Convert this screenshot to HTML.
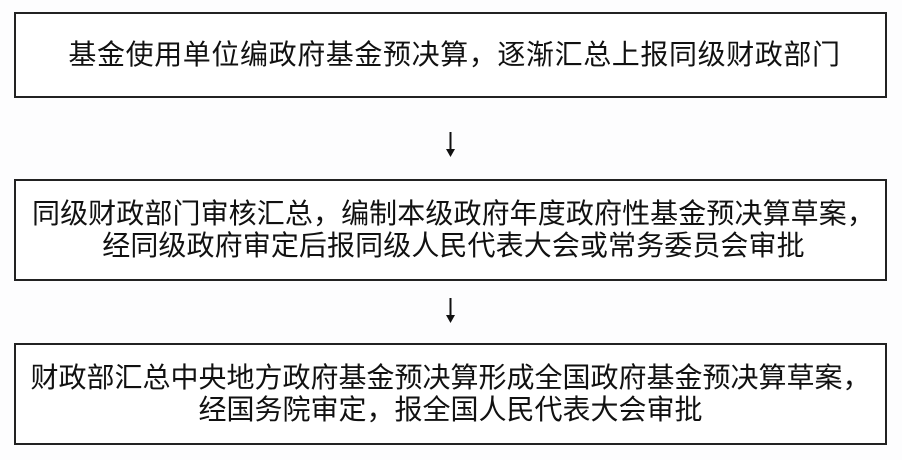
<!DOCTYPE html>
<html><head><meta charset="utf-8"><style>
body{margin:0;width:902px;height:460px;background:#fdfdfe;overflow:hidden;position:relative;font-family:"Liberation Sans","Noto Sans CJK SC",sans-serif;color:#111}
.b{position:absolute;left:14px;width:873px;border:2px solid #222;background:#fff;box-sizing:border-box;display:flex;align-items:center;justify-content:center;text-align:center;font-size:28px;line-height:32px;white-space:nowrap}
svg{position:absolute;left:0;top:0}
</style></head><body>
<div class="b" style="top:12px;height:86px;letter-spacing:0.6px;padding-left:8px">基金使用单位编政府基金预决算，逐渐汇总上报同级财政部门</div>
<div class="b" style="top:179px;height:102px;letter-spacing:0.1px;padding-left:6px">同级财政部门审核汇总，编制本级政府年度政府性基金预决算草案，<br>经同级政府审定后报同级人民代表大会或常务委员会审批</div>
<div class="b" style="top:343px;height:102px">财政部汇总中央地方政府基金预决算形成全国政府基金预决算草案，<br>经国务院审定，报全国人民代表大会审批</div>
<svg width="902" height="460">
<line x1="450.5" y1="132" x2="450.5" y2="150" stroke="#111" stroke-width="2"/>
<polygon points="446,149 455,149 450.5,157" fill="#111"/>
<line x1="450.5" y1="298" x2="450.5" y2="316" stroke="#111" stroke-width="2"/>
<polygon points="446,315 455,315 450.5,323" fill="#111"/>
</svg>
</body></html>
